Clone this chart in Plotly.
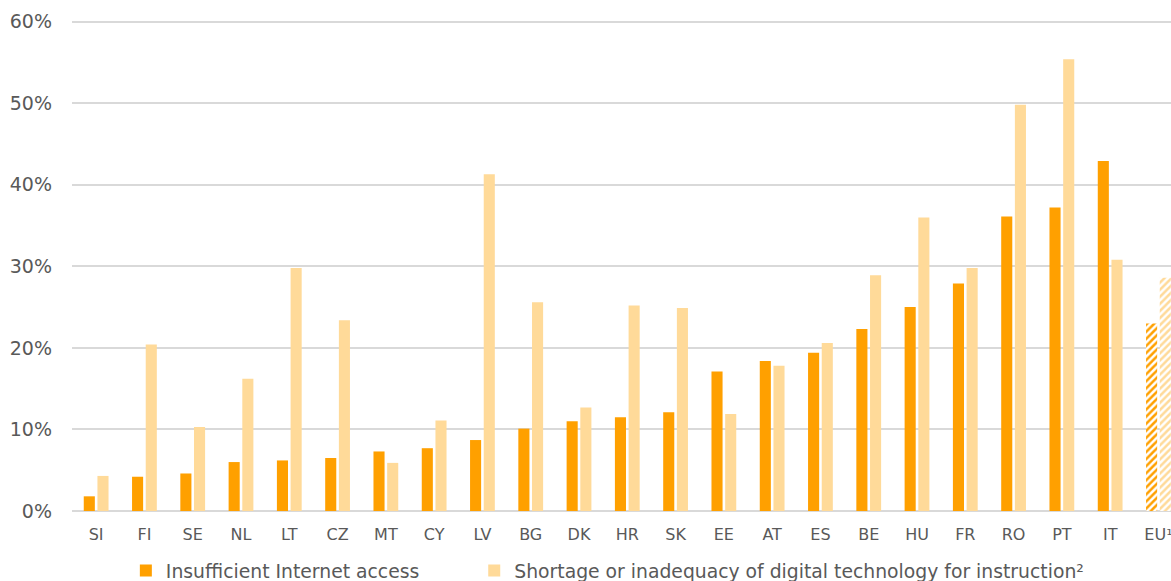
import plotly.graph_objects as go

countries = ["SI", "FI", "SE", "NL", "LT", "CZ", "MT", "CY", "LV", "BG", "DK", "HR",
             "SK", "EE", "AT", "ES", "BE", "HU", "FR", "RO", "PT", "IT", "EU¹"]
internet = [1.8, 4.2, 4.6, 6.0, 6.2, 6.5, 7.3, 7.7, 8.7, 10.1, 11.0, 11.5,
            12.1, 17.1, 18.4, 19.4, 22.3, 25.0, 27.9, 36.1, 37.2, 42.9, 23.0]
digital = [4.3, 20.4, 10.3, 16.2, 29.8, 23.4, 5.9, 11.1, 41.3, 25.6, 12.7, 25.2,
           24.9, 11.9, 17.8, 20.6, 28.9, 36.0, 29.8, 49.8, 55.4, 30.8, 28.6]
name_internet = "Insufficient Internet access"
name_digital = "Shortage or inadequacy of digital technology for instruction²"
tick_vals = [0, 10, 20, 30, 40, 50, 60]
tick_text = ["0%", "10%", "20%", "30%", "40%", "50%", "60%"]

DARK = "#FFA000"
LIGHT = "#FFDA99"
TEXT = "#595959"
GRID = "#D9D9D9"
shapes = ["" if c != "EU¹" else "/" for c in countries]

fig = go.Figure()
fig.add_trace(go.Bar(
    x=countries, y=internet, name=name_internet, legend="legend",
    marker=dict(color=DARK, line=dict(width=0),
                pattern=dict(shape=shapes, fgcolor=DARK, bgcolor="white",
                             size=5, solidity=0.5, fillmode="replace")),
))
fig.add_trace(go.Bar(
    x=countries, y=digital, name=name_digital, legend="legend2",
    marker=dict(color=LIGHT, line=dict(width=0),
                pattern=dict(shape=shapes, fgcolor=LIGHT, bgcolor="white",
                             size=5, solidity=0.5, fillmode="replace")),
))

leg_common = dict(orientation="h", xanchor="left", y=-0.083, yanchor="top",
                  font=dict(size=18.8, color=TEXT), bgcolor="rgba(0,0,0,0)")

fig.update_layout(
    width=1171, height=581,
    margin=dict(l=72, r=0, t=20.4, b=70, autoexpand=False),
    paper_bgcolor="white", plot_bgcolor="white",
    barmode="group", bargap=0.433, bargroupgap=0.19,
    font=dict(family="DejaVu Sans", color=TEXT, size=16),
    showlegend=True,
    legend=dict(x=0.0490, **leg_common),
    legend2=dict(x=0.3660, **leg_common),
    xaxis=dict(range=[-0.5, 22.26], showgrid=False, showline=False, ticks="",
               tickfont=dict(size=16, color=TEXT), automargin=False,
               ticklabelstandoff=12, fixedrange=True),
    yaxis=dict(range=[0, 60.2], tickvals=tick_vals, ticktext=tick_text,
               showgrid=True, gridcolor=GRID, gridwidth=1.8,
               zeroline=True, zerolinecolor=GRID, zerolinewidth=1.8,
               showline=False, ticks="", ticklabelstandoff=19, automargin=False,
               tickfont=dict(size=19, color=TEXT)),
)

fig.write_html("out.html", config={"displayModeBar": False},
               post_script="document.body.style.margin='0';")
